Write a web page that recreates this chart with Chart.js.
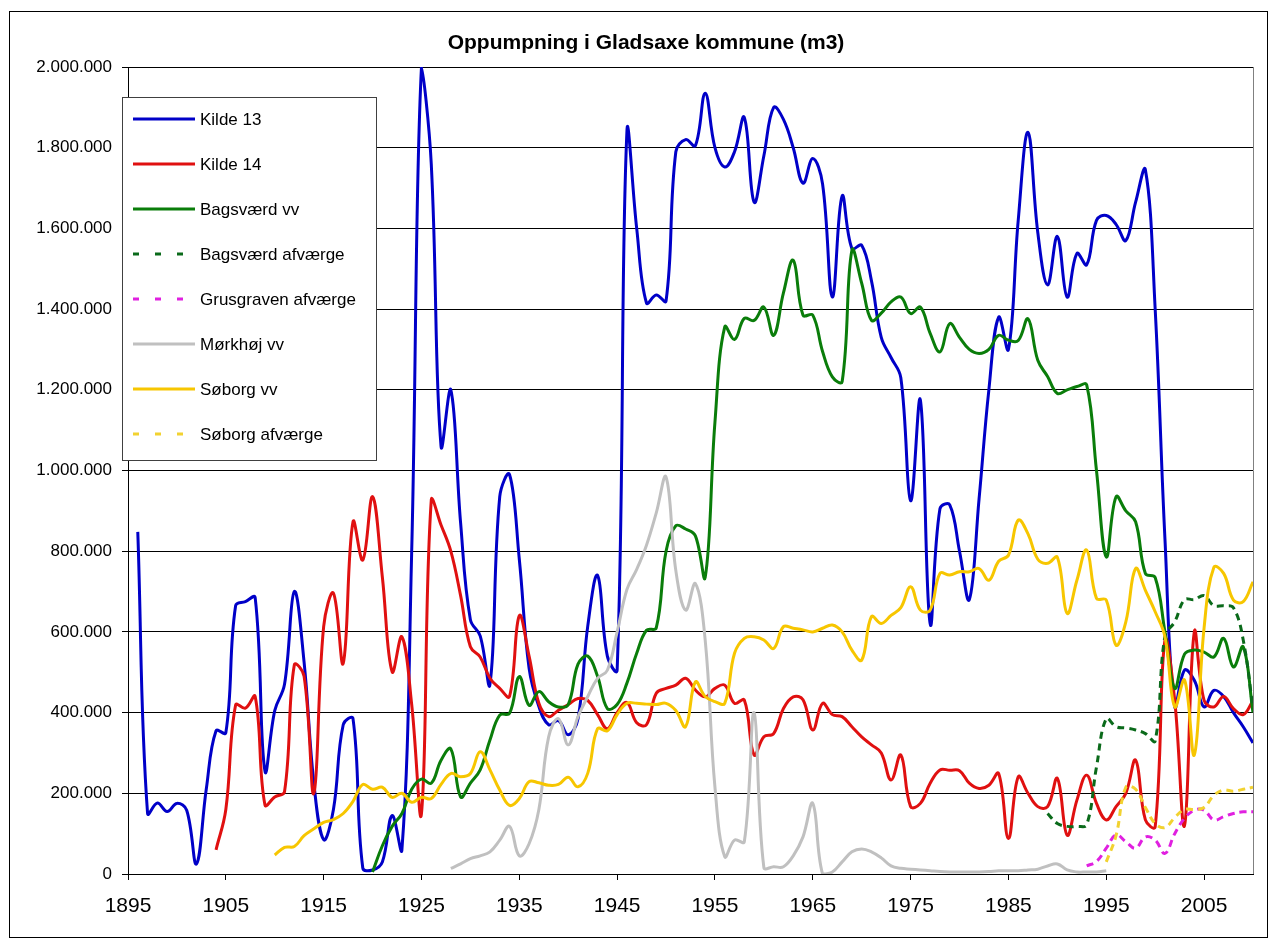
<!DOCTYPE html>
<html>
<head>
<meta charset="utf-8">
<title>Oppumpning i Gladsaxe kommune (m3)</title>
<script src="https://cdn.jsdelivr.net/npm/chart.js@4.4.1/dist/chart.umd.min.js"></script>
<style>
  html, body { margin: 0; padding: 0; background: #fff; }
  #wrap { position: relative; width: 1276px; height: 942px; }
</style>
</head>
<body>
<div id="wrap"><canvas id="chart" width="1276" height="942"></canvas></div>
<script>
// years on the category axis, labels every 10 years
var firstYear = 1895, lastYear = 2010;
var tickYears = [1895, 1905, 1915, 1925, 1935, 1945, 1955, 1965, 1975, 1985, 1995, 2005];

// all values in 1000 m3, each series starts at its own year
var kilde13Start = 1896;
var kilde13 = [848, 150, 176, 155, 175, 158, 25, 210, 355, 350, 665, 675, 685, 255, 405, 470, 700, 525, 225, 85,
  160, 370, 385, 15, 10, 30, 145, 60, 800, 2000, 1760, 1060, 1200, 870, 630, 590, 470, 935, 990, 780,
  510, 415, 370, 380, 345, 385, 615, 740, 540, 505, 1840, 1600, 1415, 1435, 1420, 1790, 1820, 1805, 1935, 1800,
  1752, 1790, 1875, 1665, 1780, 1900, 1870, 1800, 1712, 1773, 1710, 1430, 1680, 1550, 1558, 1470, 1330, 1280, 1230, 925,
  1175, 620, 905, 915, 800, 680, 930, 1200, 1380, 1300, 1620, 1838, 1590, 1460, 1580, 1430, 1538, 1510, 1620, 1632,
  1610, 1570, 1665, 1745, 1400, 830, 414, 505, 480, 414, 455, 440, 400, 365, 325];

var kilde14Start = 1904;
var kilde14 = [60, 160, 419, 411, 440, 171, 191, 204, 518, 490, 200, 613, 696, 522, 873, 778, 935, 736, 501, 588,
  420, 150, 926, 865, 800, 690, 563, 538, 485, 460, 440, 640, 540, 423, 390, 406, 420, 435, 430, 395,
  360, 400, 425, 375, 370, 448, 460, 468, 485, 456, 439, 460, 468, 423, 431, 295, 340, 348, 410, 439,
  432, 357, 423, 395, 390, 365, 340, 320, 300, 233, 295, 167, 175, 225, 258, 257, 256, 225, 212, 220,
  249, 88, 241, 200, 167, 167, 237, 96, 183, 245, 175, 134, 167, 200, 282, 134, 117, 580, 430, 120,
  600, 430, 414, 440, 410, 395, 430];

var bagsvaerdVvStart = 1920;
var bagsvaerdVv = [5, 70, 118, 150, 210, 235, 225, 282, 310, 191, 225, 258, 332, 394, 398, 489, 418, 452, 427, 414,
  420, 520, 540, 490, 410, 420, 473, 547, 604, 610, 800, 863, 855, 838, 735, 1120, 1356, 1325, 1377, 1372,
  1405, 1335, 1440, 1521, 1385, 1385, 1295, 1232, 1220, 1546, 1464, 1372, 1390, 1418, 1430, 1389, 1405, 1340, 1294, 1364,
  1330, 1300, 1290, 1300, 1335, 1323, 1322, 1376, 1273, 1233, 1191, 1200, 1208, 1212, 1000, 786, 935, 900, 873, 745,
  735, 600, 460, 545, 555, 550, 538, 584, 513, 563, 400];

var bagsvaerdAfvStart = 1989;
var bagsvaerdAfv = [150, 125, 118, 118, 122, 265, 385, 365, 362, 357, 348, 330, 590, 625, 680, 680, 690, 665, 665, 660,
  580, 410];

var grusgravenStart = 1993;
var grusgraven = [20, 31, 64, 97, 80, 64, 92, 84, 51, 100, 138, 158, 158, 134, 142, 150, 154, 154];

var morkhojStart = 1928;
var morkhoj = [14, 25, 38, 45, 55, 84, 118, 45, 75, 160, 340, 385, 320, 390, 440, 485, 505, 600, 705, 755,
  815, 895, 984, 752, 654, 720, 580, 215, 43, 84, 80, 400, 16, 18, 18, 45, 92, 175, 0, 5,
  30, 55, 62, 55, 40, 20, 14, 12, 10, 8, 6, 5, 5, 5, 5, 6, 8, 8, 8, 10,
  12, 20, 25, 10, 5, 5, 5, 8];

var soborgVvStart = 1910;
var soborgVv = [47, 66, 68, 95, 112, 128, 135, 150, 180, 222, 210, 215, 190, 200, 178, 190, 187, 222, 249, 241,
  249, 303, 258, 208, 170, 187, 229, 226, 220, 222, 240, 216, 250, 360, 355, 395, 423, 423, 421, 420,
  423, 405, 365, 476, 440, 427, 423, 547, 584, 588, 580, 559, 613, 609, 605, 600, 609, 617, 600, 555,
  530, 638, 621, 641, 660, 712, 654, 654, 745, 741, 749, 749, 757, 728, 775, 790, 877, 843, 780, 770,
  785, 646, 728, 803, 683, 679, 567, 625, 757, 703, 650, 588, 414, 481, 295, 610, 760, 745, 679, 675,
  724];

var soborgAfvStart = 1995;
var soborgAfv = [30, 95, 215, 210, 165, 125, 115, 140, 160, 160, 165, 195, 208, 205, 210, 215];

var seriesNames = ['Kilde 13', 'Kilde 14', 'Bagsværd vv', 'Bagsværd afværge', 'Grusgraven afværge', 'Mørkhøj vv', 'Søborg vv', 'Søborg afværge'];
var seriesStarts = [kilde13Start, kilde14Start, bagsvaerdVvStart, bagsvaerdAfvStart, grusgravenStart, morkhojStart, soborgVvStart, soborgAfvStart];
var seriesValues = [kilde13, kilde14, bagsvaerdVv, bagsvaerdAfv, grusgraven, morkhoj, soborgVv, soborgAfv];
var seriesColors = ['#0000c8', '#e01010', '#0a7d0a', '#0a6a1a', '#e020e0', '#c0c0c0', '#f7c600', '#f2d230'];
var seriesDashed = [false, false, false, true, true, false, false, true];

var fontFamily = 'Arial, "Liberation Sans", sans-serif';

function formatDk(v) {
  return String(Math.round(v)).replace(/\B(?=(\d{3})+(?!\d))/g, '.');
}

function toPoints(start, vals) {
  return vals.map(function(v, i) {
    return { x: start + i, y: v * 1000 };
  });
}

var datasets = seriesNames.map(function(name, i) {
  return {
    label: name,
    data: toPoints(seriesStarts[i], seriesValues[i]),
    borderColor: seriesColors[i],
    backgroundColor: seriesColors[i],
    borderWidth: 3,
    borderDash: seriesDashed[i] ? [7, 5] : [],
    pointRadius: 0,
    tension: 0.4,
    fill: false,
    order: seriesNames.length - i
  };
});

// title, legend box, plot frame and outer frame
var decoPlugin = {
  id: 'deco',
  afterDraw: function(chart) {
    var ctx = chart.ctx, area = chart.chartArea;
    ctx.save();

    // right border of plot area
    ctx.strokeStyle = '#808080';
    ctx.lineWidth = 1;
    ctx.beginPath();
    ctx.moveTo(Math.round(area.right) + 0.5, area.top);
    ctx.lineTo(Math.round(area.right) + 0.5, area.bottom);
    ctx.stroke();

    // outer frame
    ctx.strokeStyle = '#000';
    ctx.strokeRect(9.5, 11.5, 1258, 926);

    // title
    ctx.fillStyle = '#000';
    ctx.font = 'bold 21px ' + fontFamily;
    ctx.textAlign = 'center';
    ctx.textBaseline = 'alphabetic';
    ctx.fillText('Oppumpning i Gladsaxe kommune (m3)', 646, 49);

    // legend
    var lx = 122, ly = 97, lw = 254, lh = 363;
    ctx.fillStyle = '#fff';
    ctx.fillRect(lx, ly, lw, lh);
    ctx.strokeStyle = '#404040';
    ctx.strokeRect(lx + 0.5, ly + 0.5, lw, lh);
    ctx.font = '17px ' + fontFamily;
    ctx.textAlign = 'left';
    ctx.textBaseline = 'middle';
    for (var i = 0; i < seriesNames.length; i++) {
      var y = 119 + i * 45;
      ctx.strokeStyle = seriesColors[i];
      ctx.lineWidth = 3;
      ctx.setLineDash(seriesDashed[i] ? [6, 16] : []);
      ctx.beginPath();
      ctx.moveTo(133, y);
      ctx.lineTo(195, y);
      ctx.stroke();
      ctx.setLineDash([]);
      ctx.fillStyle = '#000';
      ctx.fillText(seriesNames[i], 200, y + 1);
    }
    ctx.restore();
  }
};

new Chart(document.getElementById('chart'), {
  type: 'line',
  data: { datasets: datasets },
  plugins: [decoPlugin],
  options: {
    responsive: false,
    animation: false,
    devicePixelRatio: 1,
    layout: { padding: { left: 10, right: 23, top: 67, bottom: 8 } },
    plugins: {
      legend: { display: false },
      tooltip: { enabled: false },
      title: { display: false }
    },
    scales: {
      x: {
        type: 'linear',
        min: firstYear,
        max: lastYear,
        afterBuildTicks: function(scale) {
          scale.ticks = tickYears.map(function(v) { return { value: v }; });
        },
        afterFit: function(scale) { scale.height = 60; },
        grid: { drawOnChartArea: false, drawTicks: true, tickLength: 6, color: '#000' },
        border: { color: '#000', width: 1 },
        ticks: {
          autoSkip: false,
          maxRotation: 0,
          padding: 14,
          color: '#000',
          font: { family: fontFamily, size: 21 },
          callback: function(v) { return String(v); }
        }
      },
      y: {
        min: 0,
        max: 2000000,
        afterFit: function(scale) { scale.width = 118; },
        grid: { color: '#000', lineWidth: 1, tickLength: 6 },
        border: { color: '#000', width: 1 },
        ticks: {
          stepSize: 200000,
          padding: 10,
          color: '#000',
          font: { family: fontFamily, size: 17 },
          callback: function(v) { return formatDk(v); }
        }
      }
    }
  }
});
</script>
</body>
</html>
